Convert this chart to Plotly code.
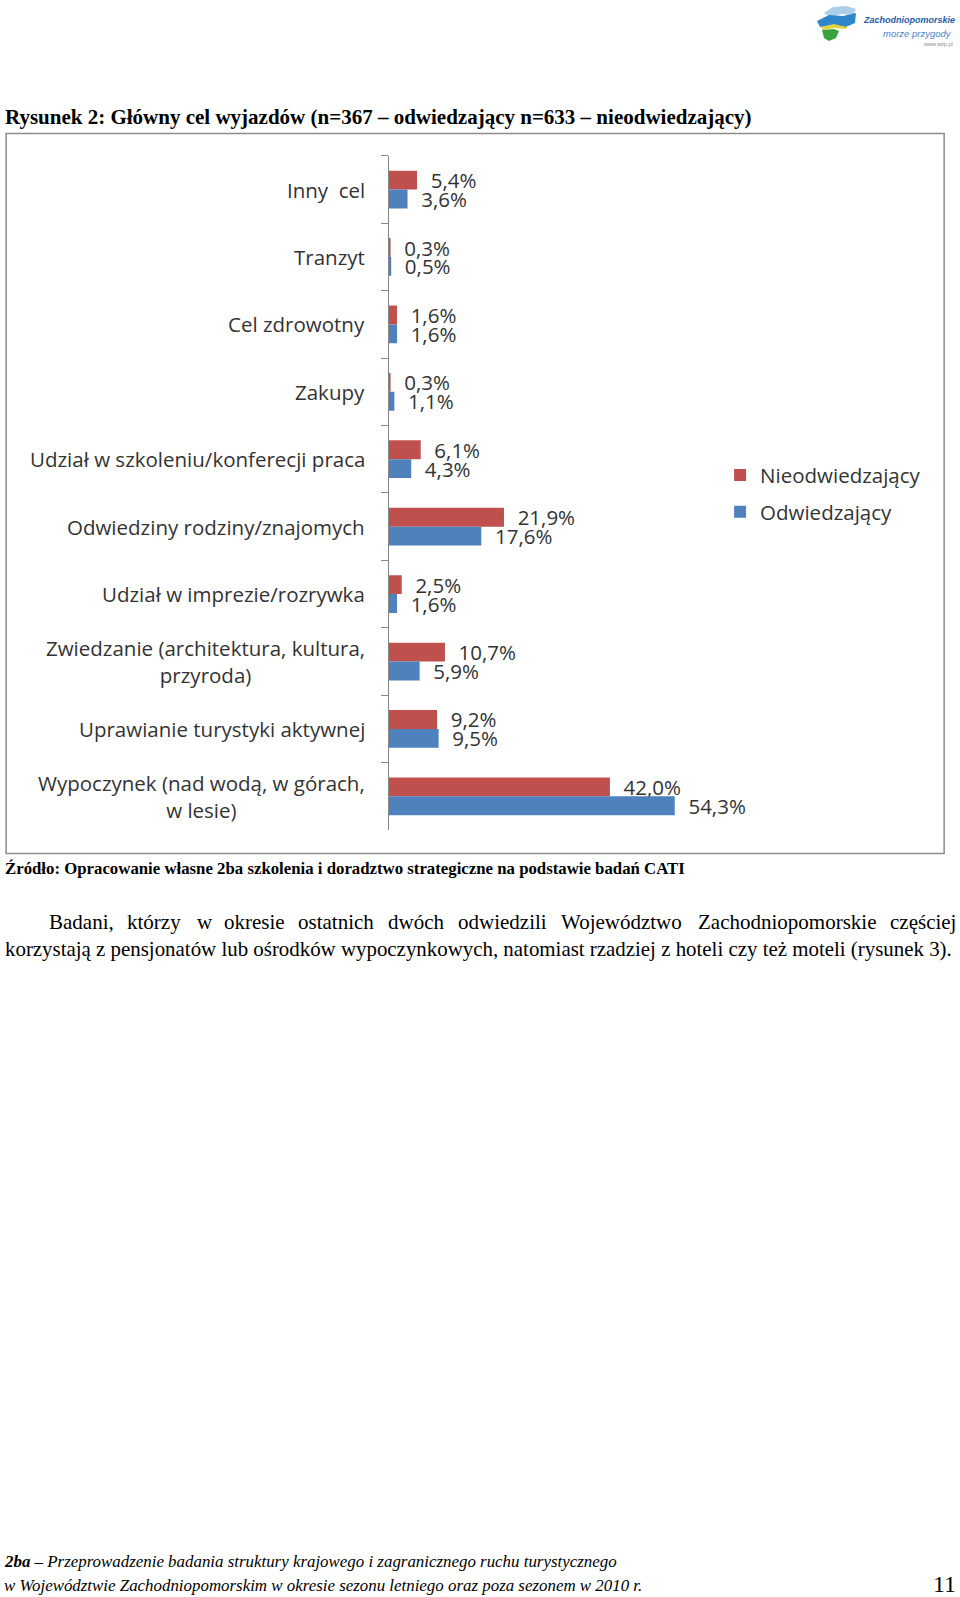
import plotly.graph_objects as go

W, H = 960, 1597
S = 1568 / 1597  # coordinates below are measured on the reference as displayed (scaled)

def px(x):
    return x / S / W

def py(y):
    return 1 - y / S / H

def rx(x):
    return x / W

def ry(y):
    return 1 - y / H

# ---------------- data ----------------
categories = [
    "Inny  cel",
    "Tranzyt",
    "Cel zdrowotny",
    "Zakupy",
    "Udział w szkoleniu/konferecji praca",
    "Odwiedziny rodziny/znajomych",
    "Udział w imprezie/rozrywka",
    "Zwiedzanie (architektura, kultura,<br>przyroda)",
    "Uprawianie turystyki aktywnej",
    "Wypoczynek (nad wodą, w górach,<br>w lesie)",
]
nieodwiedzajacy = [5.4, 0.3, 1.6, 0.3, 6.1, 21.9, 2.5, 10.7, 9.2, 42.0]
odwiedzajacy = [3.6, 0.5, 1.6, 1.1, 4.3, 17.6, 1.6, 5.9, 9.5, 54.3]
series_names = ["Nieodwiedzający", "Odwiedzający"]
series_colors = ["#C0504D", "#4F81BD"]

title_text = "Rysunek 2: Główny cel wyjazdów (n=367 – odwiedzający n=633 – nieodwiedzający)"
source_text = "Źródło: Opracowanie własne 2ba szkolenia i doradztwo strategiczne na podstawie badań CATI"
para_line1_words = ["Badani,", "którzy", "w", "okresie", "ostatnich", "dwóch", "odwiedzili",
                    "Województwo", "Zachodniopomorskie", "częściej"]
para_line1_x = [46, 123, 191, 218, 291, 379, 448, 549, 683, 872]
para_line2 = "korzystają z pensjonatów lub ośrodków wypoczynkowych, natomiast rzadziej z hoteli czy też moteli (rysunek 3)."
footer_bold = "2ba"
footer_line1 = " – Przeprowadzenie badania struktury krajowego i zagranicznego ruchu turystycznego"
footer_line2 = "w Województwie Zachodniopomorskim w okresie sezonu letniego oraz poza sezonem w 2010 r."
page_number = "11"
logo_title = "Zachodniopomorskie"
logo_slogan = "morze przygody"
logo_url = "www.wzp.pl"

CHART_FONT = "Open Sans"
SERIF = "Liberation Serif"
LABEL_SIZE = 20.5

# ---------------- plot geometry (display px) ----------------
axis_x = 381.5
px_per_pct = 5.175
x_max = 65
plot_top, plot_bottom = 153, 815

fig = go.Figure()
for name, vals, col in zip(series_names, [nieodwiedzajacy, odwiedzajacy], series_colors):
    fig.add_trace(go.Bar(
        y=categories, x=vals, name=name, orientation="h",
        marker=dict(color=col, line=dict(width=0)),
        texttemplate="\u00a0\u00a0%{x:.1f}%", textposition="outside",
        textfont=dict(family=CHART_FONT, size=LABEL_SIZE, color="#333333"),
        constraintext="none", cliponaxis=False,
        legendgroup=name,
    ))

n = len(categories)
fig.update_layout(
    width=W, height=H,
    margin=dict(l=0, r=0, t=0, b=0),
    paper_bgcolor="white", plot_bgcolor="white",
    separators=", ",
    barmode="group", bargap=0.44, bargroupgap=0,
    xaxis=dict(domain=[px(axis_x), px(axis_x + x_max * px_per_pct)], range=[0, x_max],
               visible=False, fixedrange=True),
    yaxis=dict(domain=[py(plot_bottom), py(plot_top)], type="category",
               categoryorder="array", categoryarray=categories,
               range=[n - 0.5, -0.5], showticklabels=False,
               ticks="outside", tickson="boundaries", ticklen=7,
               tickcolor="#868686", showline=True, linecolor="#868686", linewidth=1,
               showgrid=False, zeroline=False, fixedrange=True),
    showlegend=True,
    legend=dict(x=px(707), y=py(447), xanchor="left", yanchor="top",
                font=dict(family=CHART_FONT, size=LABEL_SIZE, color="#333333"),
                tracegroupgap=7, bgcolor="rgba(0,0,0,0)", itemclick=False),
    font=dict(family=CHART_FONT),
)

annotations = []
# category labels
for c in categories:
    annotations.append(dict(
        xref="paper", yref="y", x=px(axis_x), y=c, xanchor="right", yanchor="middle",
        xshift=-22, text=c, showarrow=False, align="center",
        font=dict(family=CHART_FONT, size=LABEL_SIZE, color="#333333"),
    ))

def text_ann(x, y, text, size, xanchor="left", family=SERIF, color="black"):
    return dict(xref="paper", yref="paper", x=px(x), y=py(y), xanchor=xanchor,
                yanchor="middle", text=text, showarrow=False,
                font=dict(family=family, size=size, color=color))

annotations.append(text_ann(3, 115, "<b>" + title_text + "</b>", 21.0))
annotations.append(text_ann(3, 853, "<b>" + source_text + "</b>", 16.8))
for w, xw in zip(para_line1_words, para_line1_x):
    annotations.append(text_ann(xw, 905, w, 21.0))
annotations.append(text_ann(3, 932, para_line2, 20.9))
annotations.append(text_ann(2, 1533, "<b><i>" + footer_bold + "</i></b><i>" + footer_line1 + "</i>", 16.9))
annotations.append(text_ann(2, 1557, "<i>" + footer_line2 + "</i>", 16.9))
annotations.append(text_ann(941, 1555, page_number, 24, xanchor="right"))

# logo texts (real px)
def logo_ann(x, y, text, size, color):
    return dict(xref="paper", yref="paper", x=rx(x), y=ry(y), xanchor="left",
                yanchor="middle", text=text, showarrow=False,
                font=dict(family="Liberation Sans", size=size, color=color))

annotations.append(logo_ann(861, 20, "<b><i>" + logo_title + "</i></b>", 9, "#1F5BAA"))
annotations.append(logo_ann(881, 33, "<i>" + logo_slogan + "</i>", 9.5, "#4A82C4"))
annotations.append(logo_ann(921, 44, logo_url, 5.5, "#8a8a8a"))
fig.update_layout(annotations=annotations)

def path(points):
    return "M " + " L ".join(f"{rx(x):.5f},{ry(y):.5f}" for x, y in points) + " Z"

fx0, fx1, fy0, fy1 = 6, 927, 131, 838
shapes = [
    # chart frame
    dict(type="rect", xref="paper", yref="paper", x0=px(fx0), x1=px(fx1), y0=py(fy1), y1=py(fy0),
         line=dict(color="#8C8C8C", width=1.5), fillcolor="rgba(0,0,0,0)", layer="below"),
    # logo shapes (real px)
    dict(type="path", xref="paper", yref="paper",
         path=path([(824, 13), (833, 7), (846, 6), (856, 9), (853, 15), (842, 14), (830, 17)]),
         fillcolor="#A9CFEA", line=dict(width=0)),
    dict(type="path", xref="paper", yref="paper",
         path=path([(817, 21), (829, 15), (843, 16), (856, 13), (855, 23), (846, 27), (834, 25), (820, 27)]),
         fillcolor="#2F86C8", line=dict(width=0)),
    dict(type="path", xref="paper", yref="paper",
         path=path([(821, 27), (834, 24), (846, 27), (848, 25), (846, 29), (834, 28), (823, 30)]),
         fillcolor="#E3D23A", line=dict(width=0)),
    dict(type="path", xref="paper", yref="paper",
         path=path([(822, 30), (834, 29), (839, 31), (836, 38), (829, 41), (824, 38)]),
         fillcolor="#39A33F", line=dict(width=0)),
]
fig.update_layout(shapes=shapes)

fig.write_html("out.html",
               config={"displayModeBar": False, "staticPlot": False},
               post_script="document.body.style.margin='0';document.body.style.overflow='hidden';")
